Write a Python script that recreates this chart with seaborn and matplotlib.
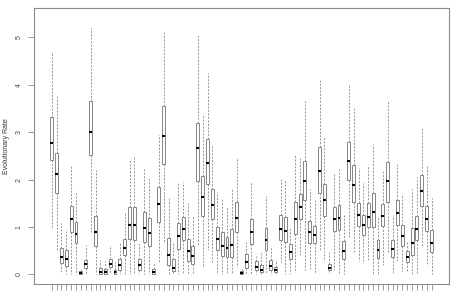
import numpy as np
import pandas as pd
import matplotlib
matplotlib.use("Agg")
import matplotlib.pyplot as plt
import seaborn as sns

# five-number summaries per group
lower = [1.00, 0.51, 0.02, 0.00, 0.00, 0.00, 0.00, 0.00, 0.90, 0.00,
         0.00, 0.00, 0.00, 0.00, 0.00, 0.00, 0.00, 0.00, 0.00, 0.00,
         0.00, 0.00, 0.25, 0.67, 0.00, 0.00, 0.00, 0.00, 0.00, 0.00,
         0.62, 0.16, 0.51, 0.23, 0.00, 0.00, 0.00, 0.00, 0.16, 0.00,
         0.00, 0.00, 0.00, 0.00, 0.00, 0.00, 0.00, 0.25, 0.00, 0.00,
         0.05, 0.40, 0.10, 0.10, 0.00, 0.51, 0.27, 0.03, 0.10, 0.00,
         0.00, 0.79, 0.44, 0.27, 0.23, 0.27, 0.00, 0.00, 0.20, 0.45,
         0.00, 0.27, 0.06, 0.04, 0.00, 0.00, 0.58, 0.20, 0.00]
q1 = [2.41, 1.72, 0.23, 0.18, 0.89, 0.65, 0.01, 0.13, 2.52, 0.60,
      0.00, 0.00, 0.15, 0.00, 0.10, 0.40, 0.74, 0.73, 0.10, 0.69,
      0.60, 0.00, 1.11, 2.33, 0.20, 0.06, 0.53, 0.72, 0.27, 0.21,
      1.97, 1.24, 1.90, 1.17, 0.51, 0.39, 0.36, 0.36, 0.90, 0.00,
      0.13, 0.63, 0.08, 0.05, 0.51, 0.10, 0.04, 0.72, 0.69, 0.32,
      0.86, 1.16, 1.57, 0.67, 0.65, 1.72, 1.24, 0.08, 0.92, 0.93,
      0.32, 1.98, 1.52, 1.02, 0.83, 1.00, 0.99, 0.34, 1.02, 1.53,
      0.37, 1.03, 0.60, 0.25, 0.41, 0.72, 1.44, 0.91, 0.46]
median = [2.78, 2.11, 0.37, 0.32, 1.16, 0.86, 0.03, 0.22, 3.00, 0.90,
          0.04, 0.04, 0.22, 0.04, 0.19, 0.56, 1.04, 1.03, 0.20, 0.97,
          0.88, 0.05, 1.48, 2.92, 0.41, 0.13, 0.81, 0.95, 0.49, 0.39,
          2.67, 1.64, 2.34, 1.46, 0.74, 0.60, 0.55, 0.61, 1.18, 0.03,
          0.25, 0.89, 0.16, 0.10, 0.72, 0.18, 0.08, 0.95, 0.92, 0.46,
          1.17, 1.41, 1.97, 0.89, 0.83, 2.18, 1.57, 0.14, 1.17, 1.19,
          0.50, 2.39, 1.88, 1.25, 1.04, 1.20, 1.32, 0.51, 1.24, 1.96,
          0.53, 1.29, 0.81, 0.36, 0.67, 0.95, 1.76, 1.17, 0.65]
q3 = [3.33, 2.55, 0.56, 0.51, 1.44, 1.11, 0.06, 0.31, 3.66, 1.24,
      0.13, 0.12, 0.32, 0.10, 0.32, 0.75, 1.41, 1.41, 0.33, 1.31,
      1.18, 0.12, 1.85, 3.56, 0.76, 0.32, 1.09, 1.20, 0.74, 0.60,
      3.20, 2.08, 2.85, 1.79, 1.00, 0.89, 0.79, 0.96, 1.52, 0.06,
      0.43, 1.17, 0.27, 0.19, 0.97, 0.30, 0.16, 1.25, 1.20, 0.63,
      1.53, 1.69, 2.40, 1.12, 1.02, 2.68, 1.90, 0.22, 1.41, 1.46,
      0.70, 2.80, 2.31, 1.50, 1.25, 1.50, 1.71, 0.72, 1.48, 2.38,
      0.72, 1.57, 1.04, 0.50, 0.97, 1.24, 2.09, 1.45, 0.93]
upper = [4.70, 3.78, 1.08, 0.92, 2.29, 1.76, 0.12, 0.62, 5.19, 2.20,
         0.30, 0.27, 0.62, 0.26, 0.69, 1.30, 2.41, 2.47, 0.67, 2.22,
         2.04, 0.25, 2.94, 5.12, 1.64, 0.67, 1.94, 1.94, 1.50, 1.24,
         5.08, 3.38, 4.24, 2.73, 1.73, 1.62, 1.43, 1.83, 2.45, 0.13,
         0.69, 1.94, 0.39, 0.44, 1.66, 0.60, 0.31, 2.01, 1.99, 0.97,
         2.52, 2.45, 3.66, 1.81, 1.57, 4.11, 2.92, 0.48, 2.13, 2.22,
         1.25, 3.99, 3.50, 2.25, 1.92, 2.31, 2.75, 1.20, 2.20, 3.66,
         1.25, 2.33, 1.69, 0.69, 1.81, 2.06, 3.08, 2.29, 1.62]
groups = [f"G{i + 1}" for i in range(len(median))]
y_ticks = [0, 1, 2, 3, 4, 5]
y_label = "Evolutionary Rate"

rows = []
for g, a, b, c, d, e in zip(groups, lower, q1, median, q3, upper):
    for v in (a, b, c, d, e):
        rows.append({"group": g, "rate": v})
df = pd.DataFrame(rows)

sns.set_style("white")
plt.rcParams["font.family"] = ["Liberation Sans", "DejaVu Sans"]

fig = plt.figure(figsize=(4.53, 2.93), dpi=100)
ax = fig.add_axes([34 / 453, 9 / 293, 415 / 453, 276 / 293])

frame_col = "#8a8a8a"
sns.boxplot(data=df, x="group", y="rate", order=groups, ax=ax,
            color="white", linecolor="#858585", linewidth=0.7, width=0.6,
            whis=(0, 100), showcaps=False, fliersize=0,
            whiskerprops=dict(linestyle=(0, (2.2, 1.6)), color="#8f8f8f", linewidth=0.65),
            medianprops=dict(color="black", linewidth=1.5))

ax.set_xlim(-3.63, 81.58)
ax.set_ylim(-0.205, 5.62)
ax.set_yticks(y_ticks)
ax.set_yticklabels([str(t) for t in y_ticks], rotation=90, va="center")
ax.set_xticks(range(len(groups)))
ax.set_xticklabels([])
ax.set_xlabel("")
ax.set_ylabel(y_label, fontsize=5, color="#333333")
ax.yaxis.set_label_coords(-0.057, 0.5)

ax.tick_params(axis="both", which="both", direction="out", length=4, width=0.6,
               color=frame_col, labelsize=5, labelcolor="#444444", pad=4,
               left=True, bottom=True)
for s in ax.spines.values():
    s.set_visible(True)
    s.set_color(frame_col)
    s.set_linewidth(0.8)

fig.savefig("out.png", dpi=100)
